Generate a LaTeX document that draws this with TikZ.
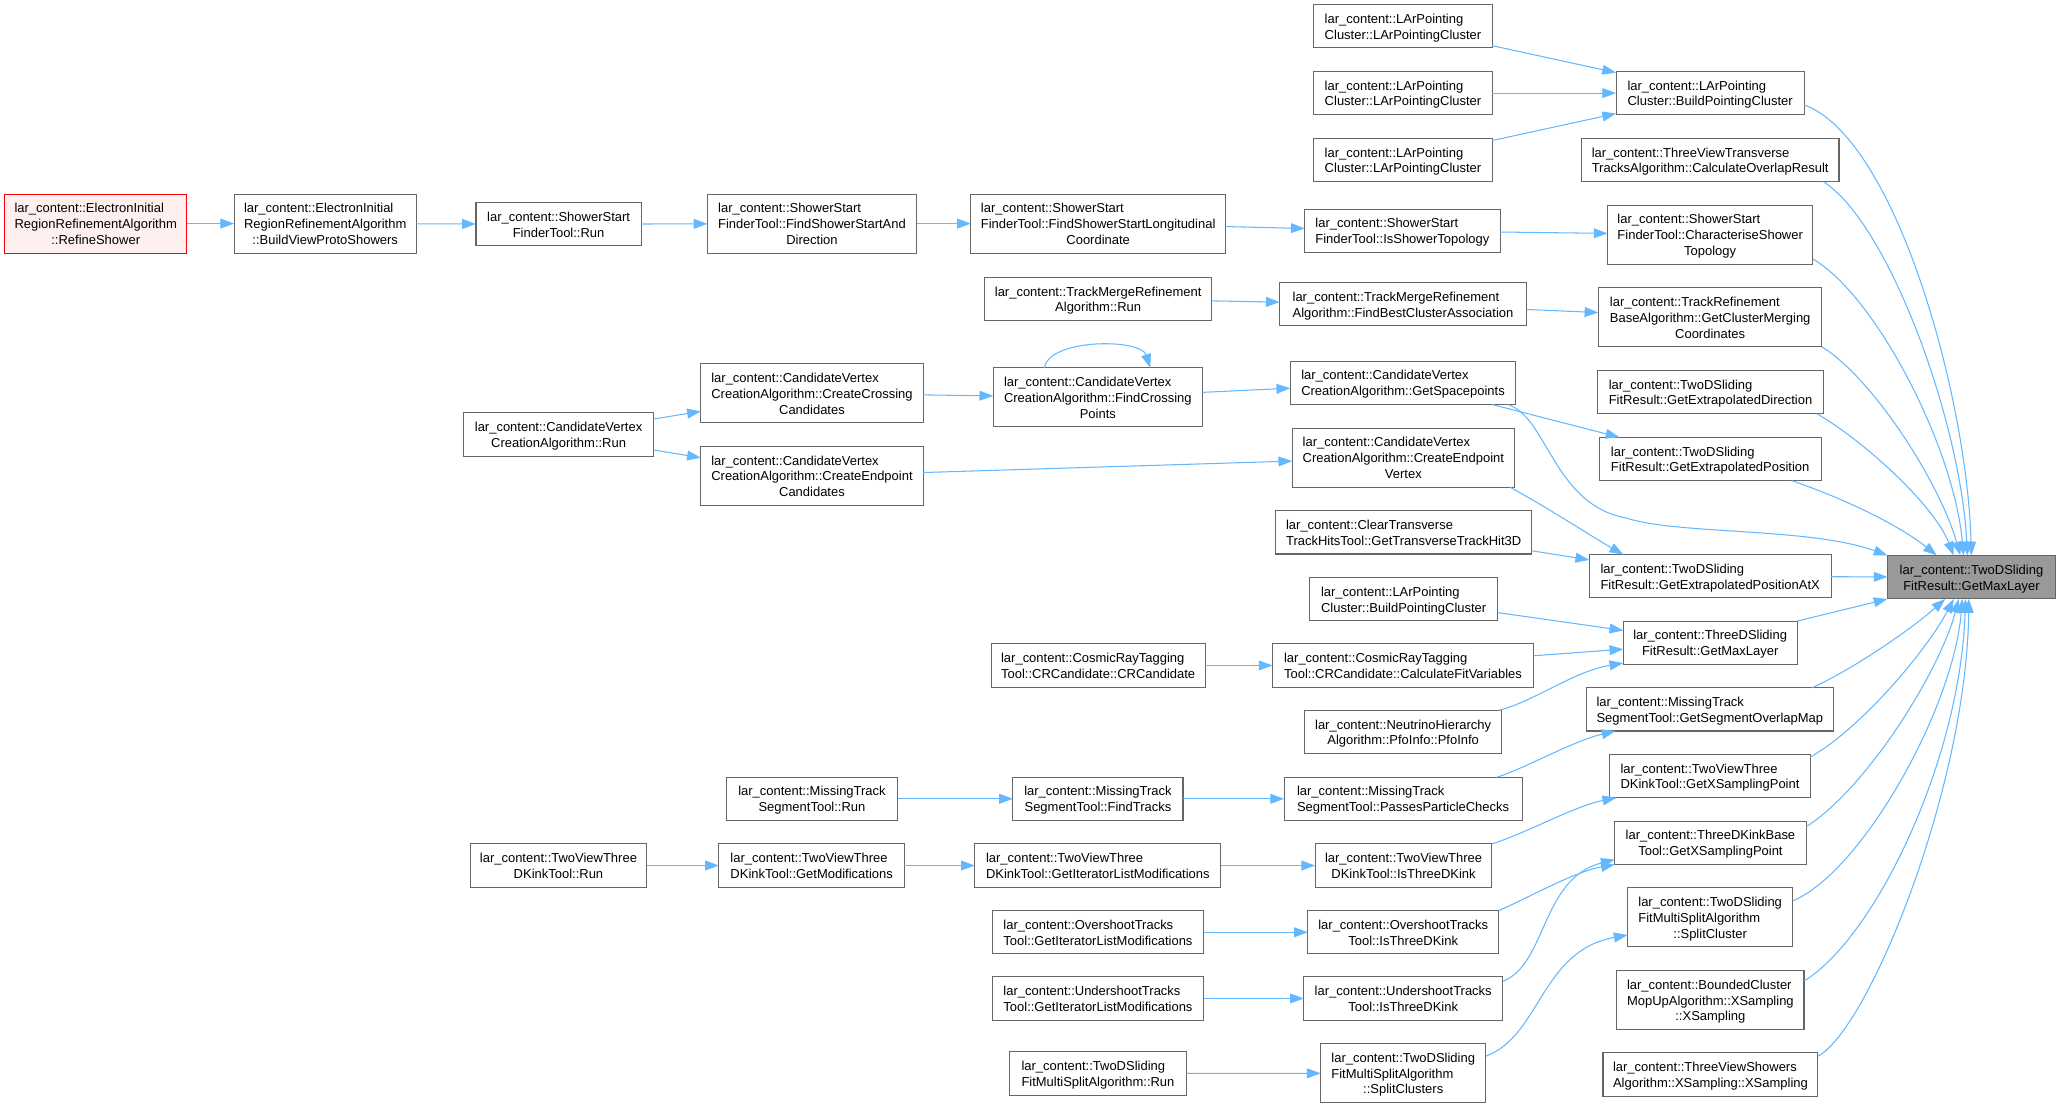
\documentclass[tikz,border=0pt]{standalone}
\usepackage{fontspec}
\setmainfont{Liberation Sans}
\usetikzlibrary{arrows.meta}
\definecolor{edgec}{HTML}{63B8FF}
\definecolor{bordc}{HTML}{666666}
\definecolor{tfill}{HTML}{999999}
\definecolor{rfill}{HTML}{FFF0F0}
\newcommand{\lb}[2]{\raisebox{-1.4pt}[\height][\depth]{\begin{tabular}{@{}l@{}}#1\\\multicolumn{1}{@{}c@{}}{#2}\end{tabular}}}
\newcommand{\nd}[7][]{\node[nbox,#1,minimum width={(#5-#3)*1pt},minimum height={(#6-#4)*1pt}] (#2) at ({(#3+#5)/2},{(#4+#6)/2}) {#7};}
\begin{document}
\begin{tikzpicture}[x=1pt,y=-1pt,
  nbox/.style={draw=bordc,fill=white,line width=0.8pt,inner sep=0pt,outer sep=0pt,
    font=\fontsize{9.9}{12}\selectfont,text=black},
  target/.style={fill=tfill},
  start/.style={draw=red,fill=rfill},
  edge/.style={draw=edgec,line width=0.8pt,-{Triangle[length=10.5pt,width=7.5pt]}}]
\fill[white] (0,0) rectangle (1568,845);
\useasboundingbox (0,0) rectangle (1568,845);
% nodes
\nd[start]{refine}{3.5}{148}{142.5}{193}{\lb{lar\_content::ElectronInitial\\RegionRefinementAlgorithm}{::RefineShower}}
\nd{bvps}{178.5}{148}{317.5}{193}{\lb{lar\_content::ElectronInitial\\RegionRefinementAlgorithm}{::BuildViewProtoShowers}}
\nd{ssrun}{363}{154.5}{489}{187.5}{\lb{lar\_content::ShowerStart}{FinderTool::Run}}
\nd{fssad}{539.5}{148}{699}{193}{\lb{lar\_content::ShowerStart\\FinderTool::FindShowerStartAnd}{Direction}}
\nd{fsslc}{740.5}{148}{934.5}{193}{\lb{lar\_content::ShowerStart\\FinderTool::FindShowerStartLongitudinal}{Coordinate}}
\nd{isst}{995}{159.5}{1144}{192.5}{\lb{lar\_content::ShowerStart}{FinderTool::IsShowerTopology}}
\nd{cst}{1226}{156.5}{1382.5}{201.5}{\lb{lar\_content::ShowerStart\\FinderTool::CharacteriseShower}{Topology}}
\nd{lpc1}{1002}{3.5}{1138}{36.5}{\lb{lar\_content::LArPointing}{Cluster::LArPointingCluster}}
\nd{lpc2}{1002}{54.5}{1138}{87.5}{\lb{lar\_content::LArPointing}{Cluster::LArPointingCluster}}
\nd{lpc3}{1002}{105.5}{1138}{138.5}{\lb{lar\_content::LArPointing}{Cluster::LArPointingCluster}}
\nd{bpc}{1232.5}{54.5}{1376}{87.5}{\lb{lar\_content::LArPointing}{Cluster::BuildPointingCluster}}
\nd{tvt}{1206}{105.5}{1402.5}{138.5}{\lb{lar\_content::ThreeViewTransverse}{TracksAlgorithm::CalculateOverlapResult}}
\nd{tmrun}{751}{211.5}{924}{244.5}{\lb{lar\_content::TrackMergeRefinement}{Algorithm::Run}}
\nd{fbca}{976}{215.5}{1164}{248.5}{\lb{lar\_content::TrackMergeRefinement}{Algorithm::FindBestClusterAssociation}}
\nd{gcmc}{1219}{219.5}{1389.5}{264.5}{\lb{lar\_content::TrackRefinement\\BaseAlgorithm::GetClusterMerging}{Coordinates}}
\nd{cvrun}{353.5}{314.8}{498.5}{347.8}{\lb{lar\_content::CandidateVertex}{CreationAlgorithm::Run}}
\nd{cvcc}{534.5}{277.5}{704}{322.5}{\lb{lar\_content::CandidateVertex\\CreationAlgorithm::CreateCrossing}{Candidates}}
\nd{cvce}{534.5}{340.5}{704}{385.5}{\lb{lar\_content::CandidateVertex\\CreationAlgorithm::CreateEndpoint}{Candidates}}
\nd{cvfcp}{757.5}{280.5}{917}{325.5}{\lb{lar\_content::CandidateVertex\\CreationAlgorithm::FindCrossing}{Points}}
\nd{cvgs}{984}{275.5}{1156}{308.5}{\lb{lar\_content::CandidateVertex}{CreationAlgorithm::GetSpacepoints}}
\nd{cvcev}{985.5}{326.5}{1155}{371.5}{\lb{lar\_content::CandidateVertex\\CreationAlgorithm::CreateEndpoint}{Vertex}}
\nd{ged}{1218}{282.5}{1391}{315.5}{\lb{lar\_content::TwoDSliding}{FitResult::GetExtrapolatedDirection}}
\nd{gep}{1219.5}{333.5}{1389}{366.5}{\lb{lar\_content::TwoDSliding}{FitResult::GetExtrapolatedPosition}}
\nd{ctt}{973}{389.5}{1168}{422.5}{\lb{lar\_content::ClearTransverse}{TrackHitsTool::GetTransverseTrackHit3D}}
\nd{gepx}{1212}{423}{1396.5}{456}{\lb{lar\_content::TwoDSliding}{FitResult::GetExtrapolatedPositionAtX}}
\nd[target]{target}{1439.5}{423.6}{1567.5}{456.8}{\lb{lar\_content::TwoDSliding}{FitResult::GetMaxLayer}}
\nd{bpc2}{999}{440.5}{1142}{473.5}{\lb{lar\_content::LArPointing}{Cluster::BuildPointingCluster}}
\nd{tdml}{1238}{473.7}{1370.5}{506.7}{\lb{lar\_content::ThreeDSliding}{FitResult::GetMaxLayer}}
\nd{crcc}{756}{491}{919}{524}{\lb{lar\_content::CosmicRayTagging}{Tool::CRCandidate::CRCandidate}}
\nd{crcfv}{970.5}{491}{1169.5}{524}{\lb{lar\_content::CosmicRayTagging}{Tool::CRCandidate::CalculateFitVariables}}
\nd{nhpfo}{995}{541.8}{1145.2}{574.8}{\lb{lar\_content::NeutrinoHierarchy}{Algorithm::PfoInfo::PfoInfo}}
\nd{mtsgsom}{1210}{524.5}{1398}{557.5}{\lb{lar\_content::MissingTrack}{SegmentTool::GetSegmentOverlapMap}}
\nd{mtsrun}{554}{592.7}{684.5}{625.7}{\lb{lar\_content::MissingTrack}{SegmentTool::Run}}
\nd{mtsft}{772.5}{592.7}{902.2}{625.7}{\lb{lar\_content::MissingTrack}{SegmentTool::FindTracks}}
\nd{mtsppc}{979.3}{592.7}{1160.8}{625.7}{\lb{lar\_content::MissingTrack}{SegmentTool::PassesParticleChecks}}
\nd{tvtkgxsp}{1227.6}{575.4}{1380.6}{608.4}{\lb{lar\_content::TwoViewThree}{DKinkTool::GetXSamplingPoint}}
\nd{tdkbgxsp}{1231.5}{626.3}{1377.4}{659.3}{\lb{lar\_content::ThreeDKinkBase}{Tool::GetXSamplingPoint}}
\nd{tvtkrun}{358.5}{643.6}{493.3}{676.6}{\lb{lar\_content::TwoViewThree}{DKinkTool::Run}}
\nd{tvtkgm}{548.3}{643.6}{689.7}{676.6}{\lb{lar\_content::TwoViewThree}{DKinkTool::GetModifications}}
\nd{tvtkgilm}{743.5}{643.6}{931}{676.6}{\lb{lar\_content::TwoViewThree}{DKinkTool::GetIteratorListModifications}}
\nd{tvtkitdk}{1003}{643.6}{1137.8}{676.6}{\lb{lar\_content::TwoViewThree}{DKinkTool::IsThreeDKink}}
\nd{tdsfmssc}{1241.3}{677.1}{1367.2}{722.1}{\lb{lar\_content::TwoDSliding\\FitMultiSplitAlgorithm}{::SplitCluster}}
\nd{otgilm}{756.7}{694.5}{918}{727.5}{\lb{lar\_content::OvershootTracks}{Tool::GetIteratorListModifications}}
\nd{otitdk}{997.4}{694.5}{1142.9}{727.5}{\lb{lar\_content::OvershootTracks}{Tool::IsThreeDKink}}
\nd{bcmu}{1233}{740.2}{1375.8}{785.2}{\lb{lar\_content::BoundedCluster\\MopUpAlgorithm::XSampling}{::XSampling}}
\nd{utgilm}{756.7}{745}{918}{778}{\lb{lar\_content::UndershootTracks}{Tool::GetIteratorListModifications}}
\nd{utitdk}{994.3}{745}{1146}{778}{\lb{lar\_content::UndershootTracks}{Tool::IsThreeDKink}}
\nd{tdsfmsrun}{770}{802.2}{904.7}{835.2}{\lb{lar\_content::TwoDSliding}{FitMultiSplitAlgorithm::Run}}
\nd{tdsfmsscs}{1007.2}{796}{1133.1}{841}{\lb{lar\_content::TwoDSliding\\FitMultiSplitAlgorithm}{::SplitClusters}}
\nd{tvsxs}{1222.5}{803}{1386.4}{836}{\lb{lar\_content::ThreeViewShowers}{Algorithm::XSampling::XSampling}}
% edges
\draw[edge] (refine) -- (bvps);
\draw[edge] (bvps) -- (ssrun);
\draw[edge] (ssrun) -- (fssad);
\draw[edge] (fssad) -- (fsslc);
\draw[edge] (fsslc) -- (isst);
\draw[edge] (isst) -- (cst);
\draw[edge] (lpc1) -- (bpc);
\draw[edge] (lpc2) -- (bpc);
\draw[edge] (lpc3) -- (bpc);
\draw[edge] (tmrun) -- (fbca);
\draw[edge] (fbca) -- (gcmc);
\draw[edge] (cvrun) -- (cvcc);
\draw[edge] (cvrun) -- (cvce);
\draw[edge] (cvcc) -- (cvfcp);
\draw[edge] ([xshift=-40.75pt]cvfcp.north) .. controls (800,258) and (870,258) .. ([xshift=40pt]cvfcp.north);
\draw[edge] (cvfcp) -- (cvgs);
\draw[edge] (cvce) -- (cvcev);
\draw[edge] ([xshift=-18pt]cvgs.south east) -- ([xshift=15.5pt]gep.north west);
\draw[edge] ([xshift=-6pt]cvgs.south east) .. controls (1180,318) and (1185,385) .. (1240,395) .. controls (1280,408) and (1380,402) .. (target.north west);
\draw[edge] ([xshift=-3.5pt]cvcev.south east) .. controls (1185,390) and (1212,408) .. ([xshift=26pt]gepx.north west);
\draw[edge] ([yshift=2.5pt]ctt.south east) -- ([yshift=-4pt]gepx.north west);
\draw[edge] (gepx) -- (target);
\draw[edge] (bpc2) -- (tdml);
\draw[edge] (crcc) -- (crcfv);
\draw[edge] (crcfv) -- (tdml);
\draw[edge] ([xshift=-2.3pt]nhpfo.north east) .. controls (1170,535) and (1200,512) .. ([yshift=1pt]tdml.south west);
\draw[edge] (tdml.north east) -- (target.south west);
\draw[edge] ([yshift=-9pt]bpc.east) .. controls (1445,105) and (1500,300) .. (target.north);
\draw[edge] ([xshift=-12pt]tvt.south east) .. controls (1440,170) and (1495,320) .. ([xshift=-3pt]target.north);
\draw[edge] ([yshift=4pt]cst.south east) .. controls (1430,225) and (1490,340) .. ([xshift=-6pt]target.north);
\draw[edge] (gcmc.south east) .. controls (1430,290) and (1480,370) .. ([xshift=-8.5pt]target.north);
\draw[edge] ([xshift=-5.5pt]ged.south east) .. controls (1420,335) and (1475,385) .. ([xshift=-13.5pt]target.north);
\draw[edge] ([xshift=-22.7pt]gep.south east) .. controls (1400,378) and (1445,398) .. ([xshift=-26.4pt]target.north);
\draw[edge] ([xshift=-16pt]mtsgsom.north east) .. controls (1410,512) and (1455,482) .. ([xshift=-20pt]target.south);
\draw[edge] ([yshift=-2pt]tvtkgxsp.north east) .. controls (1420,555) and (1470,495) .. ([xshift=-13.5pt]target.south);
\draw[edge] ([yshift=-4.3pt]tdkbgxsp.north east) .. controls (1425,600) and (1480,510) .. ([xshift=-9.7pt]target.south);
\draw[edge] ([yshift=-10pt]tdsfmssc.north east) .. controls (1420,665) and (1490,540) .. ([xshift=-7pt]target.south);
\draw[edge] ([yshift=-8pt]bcmu.north east) .. controls (1430,715) and (1495,580) .. ([xshift=-4.5pt]target.south);
\draw[edge] ([yshift=-2.5pt]tvsxs.north east) .. controls (1425,785) and (1500,600) .. ([xshift=-2pt]target.south);
\draw[edge] (mtsrun) -- (mtsft);
\draw[edge] (mtsft) -- (mtsppc);
\draw[edge] ([xshift=-19pt]mtsppc.north east) .. controls (1165,585) and (1200,565) .. ([xshift=22pt]mtsgsom.south west);
\draw[edge] (tvtkrun) -- (tvtkgm);
\draw[edge] (tvtkgm) -- (tvtkgilm);
\draw[edge] (tvtkgilm) -- (tvtkitdk);
\draw[edge] (tvtkitdk.north east) .. controls (1165,635) and (1200,615) .. ([xshift=5pt]tvtkgxsp.south west);
\draw[edge] (otgilm) -- (otitdk);
\draw[edge] (otitdk.north east) .. controls (1165,685) and (1200,665) .. (tdkbgxsp.south west);
\draw[edge] (utgilm) -- (utitdk);
\draw[edge] ([yshift=-3.5pt]utitdk.north east) .. controls (1180,735) and (1175,670) .. ([yshift=3.8pt]tdkbgxsp.south west);
\draw[edge] (tdsfmsrun) -- (tdsfmsscs);
\draw[edge] ([yshift=-9.5pt]tdsfmsscs.north east) .. controls (1175,790) and (1175,725) .. ([yshift=9pt]tdsfmssc.south west);
\end{tikzpicture}
\end{document}
